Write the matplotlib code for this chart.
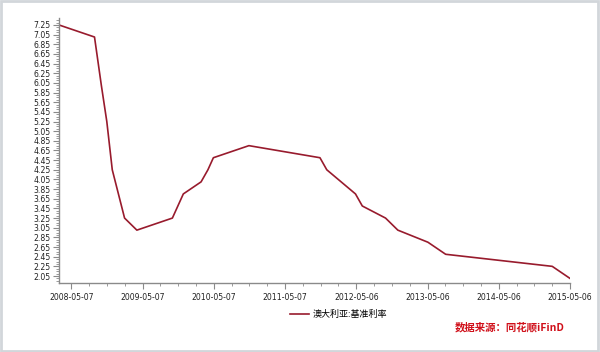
import matplotlib
matplotlib.use("Agg")
import matplotlib.pyplot as plt
import matplotlib.dates as mdates
from matplotlib.patches import Rectangle
import numpy as np
import datetime as dt

plt.rcParams['font.family'] = ['Noto Sans CJK SC', 'DejaVu Sans']

dates = ["2008-03-05", "2008-09-03", "2008-10-08", "2008-11-05", "2008-12-03",
         "2009-02-04", "2009-04-08", "2009-10-07", "2009-11-04", "2009-12-02",
         "2010-03-03", "2010-04-07", "2010-05-05", "2010-11-03", "2011-11-02",
         "2011-12-07", "2012-05-02", "2012-06-06", "2012-10-03", "2012-12-05",
         "2013-05-08", "2013-08-07", "2015-02-04", "2015-05-06"]
rates = [7.25, 7.00, 6.00, 5.25, 4.25,
         3.25, 3.00, 3.25, 3.50, 3.75,
         4.00, 4.25, 4.50, 4.75, 4.50,
         4.25, 3.75, 3.50, 3.25, 3.00,
         2.75, 2.50, 2.25, 2.00]
xtick_labels = ["2008-05-07", "2009-05-07", "2010-05-07", "2011-05-07",
                "2012-05-06", "2013-05-06", "2014-05-06", "2015-05-06"]
series_name = "澳大利亚:基准利率"
source_text = "数据来源：同花顺iFinD"

x = [dt.datetime.strptime(d, "%Y-%m-%d") for d in dates]
xt = [dt.datetime.strptime(d, "%Y-%m-%d") for d in xtick_labels]

fig = plt.figure(figsize=(6.0, 3.52), dpi=100)
fig.patch.set_facecolor("white")
ax = fig.add_axes([0.0983, 0.196, 0.8517, 0.753])

line_color = "#981b2d"
ax.plot(x, rates, color=line_color, lw=1.2, label=series_name)

ax.set_xlim(x[0], xt[-1])
ax.set_ylim(1.905, 7.395)

ax.set_xticks(xt)
ax.set_xticklabels(xtick_labels)
minor_x = []
for i in range(len(xt) - 1):
    a, b = mdates.date2num(xt[i]), mdates.date2num(xt[i + 1])
    for k in range(1, 4):
        minor_x.append(a + (b - a) * k / 4)
ax.set_xticks(minor_x, minor=True)

yt = np.round(np.arange(2.05, 7.26, 0.2), 2)
ax.set_yticks(yt)
ax.set_yticklabels([f"{v:.2f}" for v in yt])
ax.set_yticks(np.round(np.arange(1.95, 7.40, 0.05), 2), minor=True)

for s in ["top", "right"]:
    ax.spines[s].set_visible(False)
for s in ["left", "bottom"]:
    ax.spines[s].set_color("#8a8a8a")
    ax.spines[s].set_linewidth(1.0)

ax.tick_params(axis="both", which="major", labelsize=5.6, colors="#8a8a8a",
               labelcolor="#222222", length=4, width=0.8, direction="out")
ax.tick_params(axis="both", which="minor", colors="#8a8a8a", length=2, width=0.6,
               direction="out")
for lbl in ax.get_xticklabels() + ax.get_yticklabels():
    lbl.set_family("DejaVu Sans")
ax.tick_params(axis="x", pad=3)
ax.tick_params(axis="y", pad=2)

leg = fig.legend(loc="center", bbox_to_anchor=(0.565, 0.106), frameon=False,
                 fontsize=6.5, handlelength=2.0, handletextpad=0.5)

fig.text(0.85, 0.071, source_text, color="#d0101a", fontsize=7.5, fontweight="bold",
         ha="center", va="center")

fig.patches.append(Rectangle((0.002, 0.004), 0.994, 0.993, transform=fig.transFigure,
                             fill=False, edgecolor="#d2d6da", linewidth=2.0))

fig.savefig("out.png", dpi=100)
